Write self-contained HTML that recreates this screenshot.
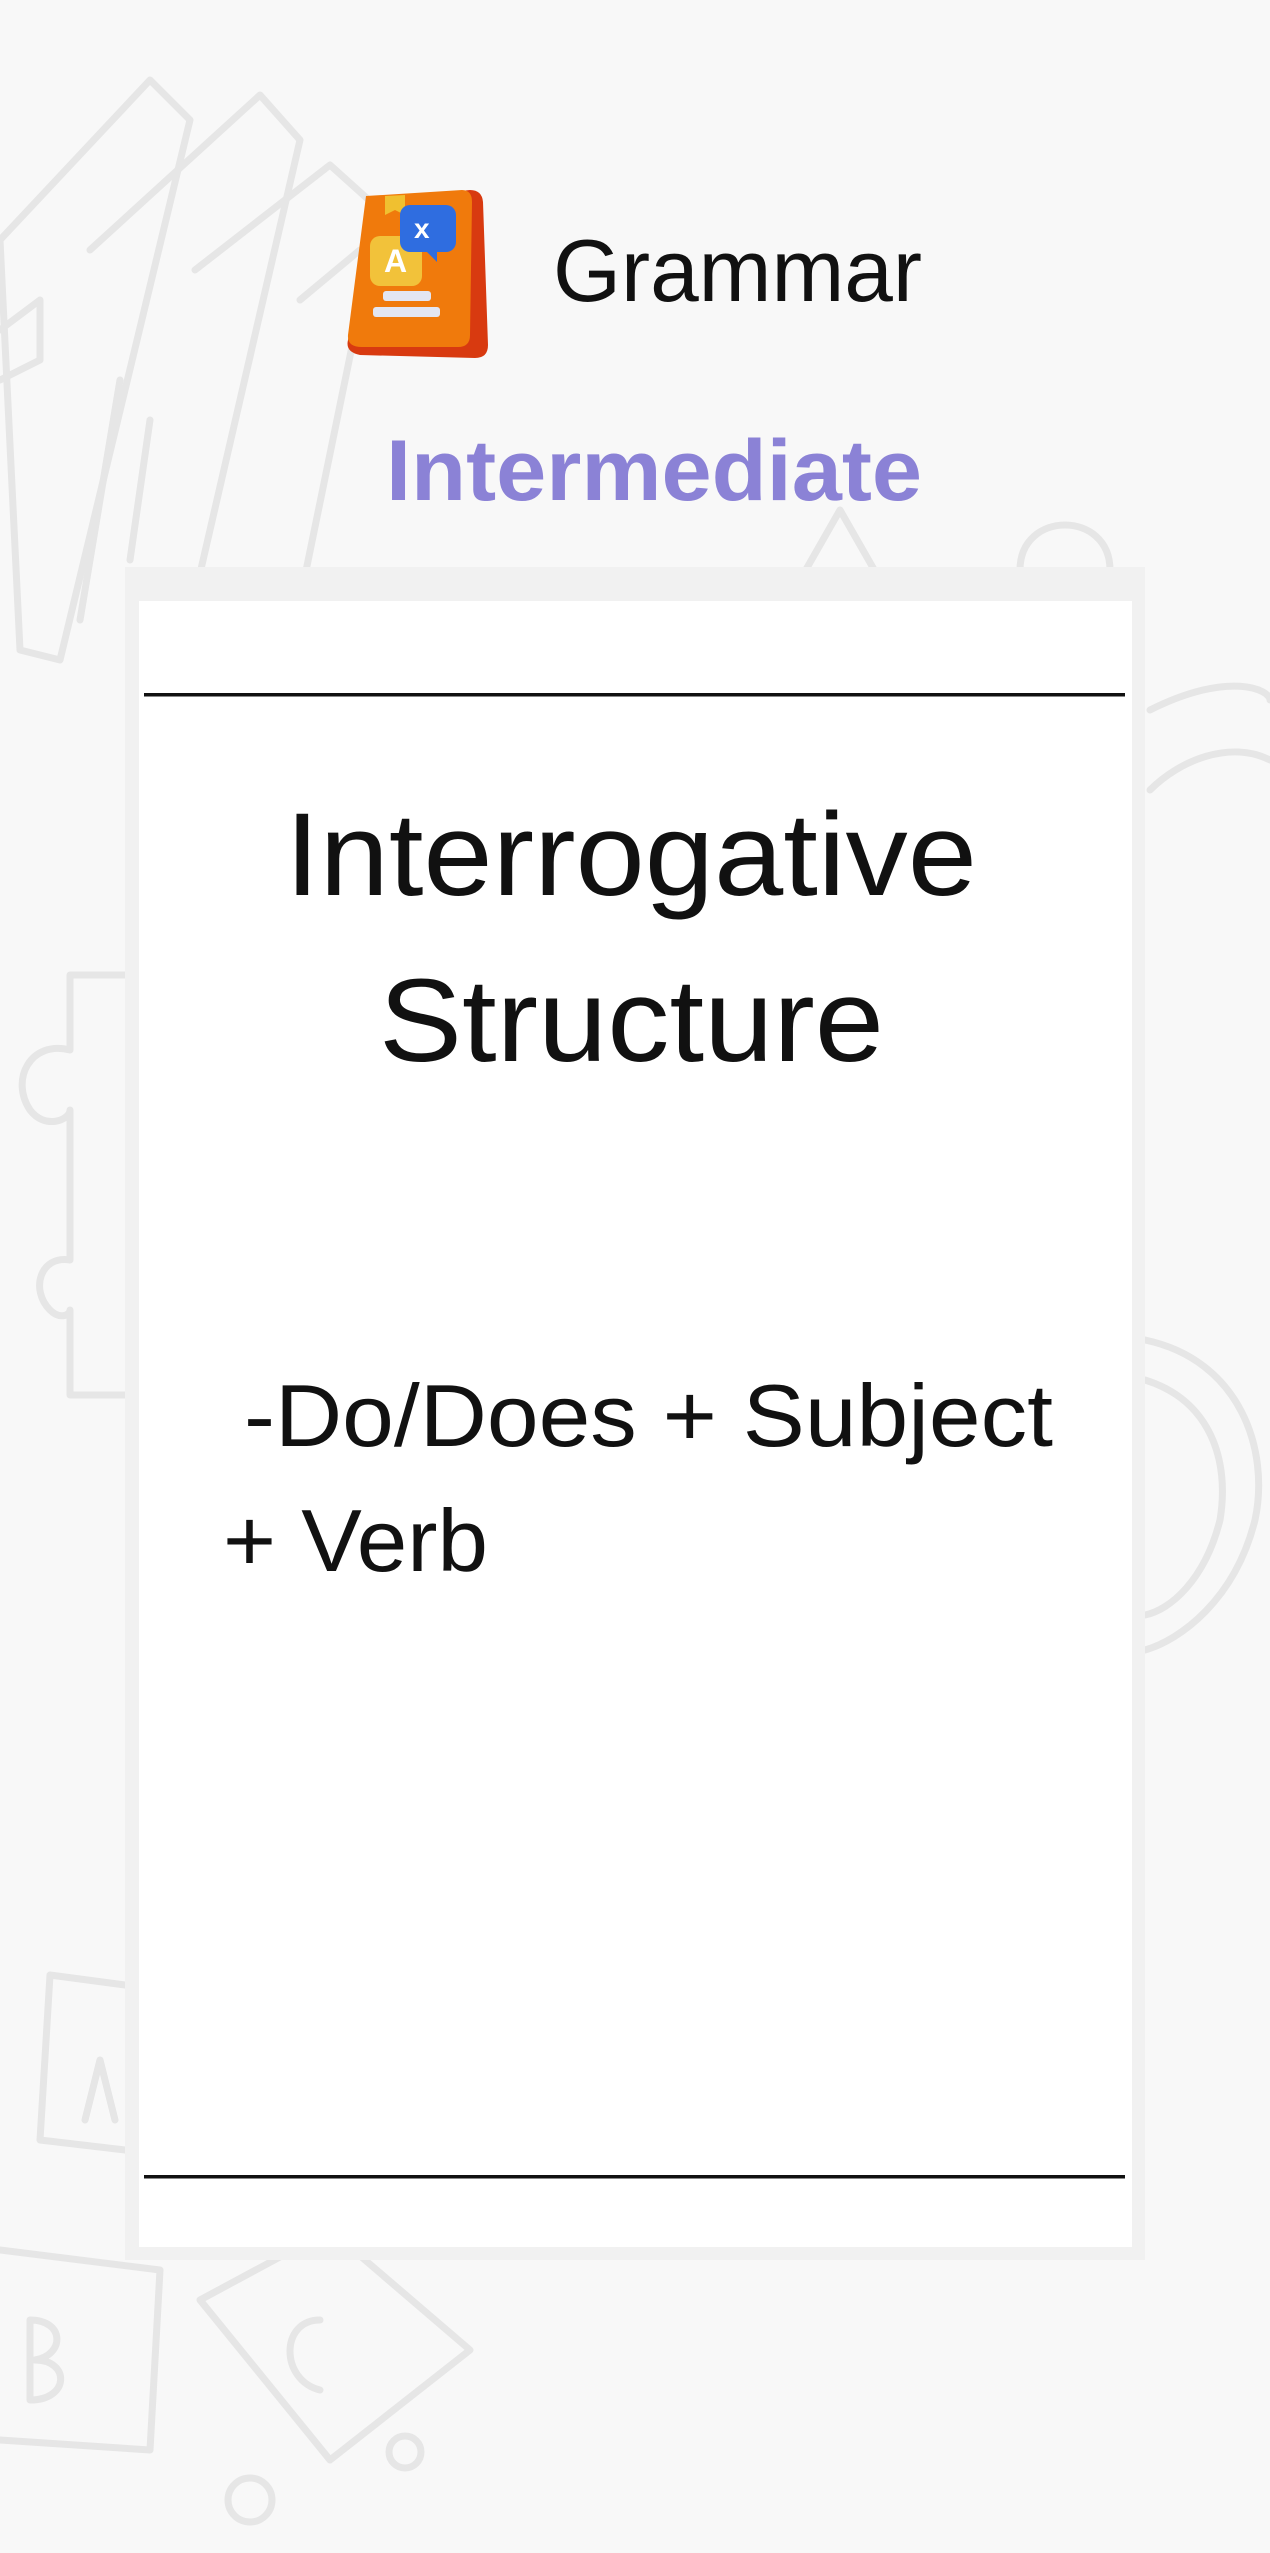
<!DOCTYPE html>
<html><head><meta charset="utf-8"><style>
html,body{margin:0;padding:0;background:#f8f8f8;}
svg{display:block;}
</style></head><body>
<svg width="1270" height="2553" viewBox="0 0 1270 2553" xmlns="http://www.w3.org/2000/svg">
<rect width="1270" height="2553" fill="#f8f8f8"/>
<g fill="none" stroke="#e6e6e6" stroke-width="7" stroke-linecap="round" stroke-linejoin="round">
  <path d="M0 240 L150 80 L190 120 L60 660 L20 650 Z"/>
  <path d="M90 250 L260 95 L300 140 L180 660"/>
  <path d="M195 270 L330 165 L380 210 L300 600"/>
  <path d="M0 330 L40 300 L40 360 L0 380"/>
  <path d="M120 380 L80 620"/>
  <path d="M150 420 L130 560"/>
  <path d="M300 300 L360 250"/>
  <path d="M800 580 L840 510 L880 580"/>
  <path d="M1020 570 C1020 510 1110 510 1110 570"/>
  <path d="M1150 710 C1230 670 1270 690 1270 700"/>
  <path d="M1150 790 C1180 760 1230 740 1270 760"/>
  <path d="M1145 1340 C1240 1360 1270 1450 1255 1520 C1235 1600 1180 1640 1145 1650"/>
  <path d="M1145 1380 C1210 1400 1230 1460 1220 1520 C1205 1580 1170 1610 1145 1615"/>
  <path d="M125 975 L70 975 L70 1050 C30 1040 10 1080 30 1110 C45 1130 70 1120 70 1110 L70 1260 C40 1255 30 1290 50 1310 C60 1320 70 1315 70 1310 L70 1395 L125 1395"/>
  <path d="M125 1985 L50 1975 L40 2140 L125 2150"/>
  <path d="M85 2120 L100 2060 L115 2120"/>
  <path d="M0 2250 L160 2270 L150 2450 L0 2440"/>
  <path d="M30 2320 L30 2400 C70 2400 70 2360 35 2360 C65 2355 65 2320 30 2320"/>
  <path d="M200 2300 L330 2230 L470 2350 L330 2460 Z"/>
  <path d="M320 2320 C280 2320 280 2380 320 2390"/>
  <circle cx="250" cy="2500" r="22"/>
  <circle cx="405" cy="2452" r="16"/>
</g>
<rect x="125" y="567" width="1020" height="1693" fill="#f1f1f1"/>
<rect x="139" y="601" width="993" height="1646" fill="#ffffff"/>
<rect x="144" y="693" width="981" height="3.5" fill="#111"/>
<rect x="144" y="2175" width="981" height="3.5" fill="#111"/>
<g>
  <path d="M372 200 L470 190 Q482 190 483 202 L488 345 Q488 358 475 358 L360 355 Q345 352 348 340 Z" fill="#d83a10"/>
  <path d="M366 196 L462 190 Q472 190 472 202 L470 335 Q470 347 458 347 L362 347 Q347 347 348 335 Z" fill="#f07a0c"/>
  <path d="M385 196 L405 195 L405 215 L395 210 L385 215 Z" fill="#f0c030"/>
  <rect x="370" y="236" width="52" height="50" rx="10" fill="#f2c23a"/>
  <text x="384" y="272" font-family="Liberation Sans, sans-serif" font-weight="bold" font-size="32" fill="#fff">A</text>
  <rect x="400" y="205" width="56" height="47" rx="10" fill="#2f6de0"/>
  <path d="M425 250 L437 262 L437 250 Z" fill="#2f6de0"/>
  <text x="414" y="238" font-family="Liberation Sans, sans-serif" font-weight="bold" font-size="28" fill="#fff">x</text>
  <rect x="383" y="291" width="48" height="10" rx="3" fill="#e3e6f2"/>
  <rect x="373" y="307" width="67" height="10" rx="3" fill="#e3e6f2"/>
</g>
<text x="553" y="301" textLength="369" lengthAdjust="spacingAndGlyphs" font-family="Liberation Sans, sans-serif" font-size="88" fill="#111">Grammar</text>
<text x="386" y="500" textLength="536" lengthAdjust="spacingAndGlyphs" font-family="Liberation Sans, sans-serif" font-weight="bold" font-size="86" fill="#8b82d6">Intermediate</text>
<text x="285" y="895" textLength="692" lengthAdjust="spacingAndGlyphs" font-family="Liberation Sans, sans-serif" font-size="118" fill="#111">Interrogative</text>
<text x="379" y="1061" textLength="505" lengthAdjust="spacingAndGlyphs" font-family="Liberation Sans, sans-serif" font-size="118" fill="#111">Structure</text>
<text x="244" y="1446" textLength="809" lengthAdjust="spacingAndGlyphs" font-family="Liberation Sans, sans-serif" font-size="88" fill="#111">-Do/Does + Subject</text>
<text x="223" y="1571" textLength="265" lengthAdjust="spacingAndGlyphs" font-family="Liberation Sans, sans-serif" font-size="88" fill="#111">+ Verb</text>
</svg>
</body></html>
